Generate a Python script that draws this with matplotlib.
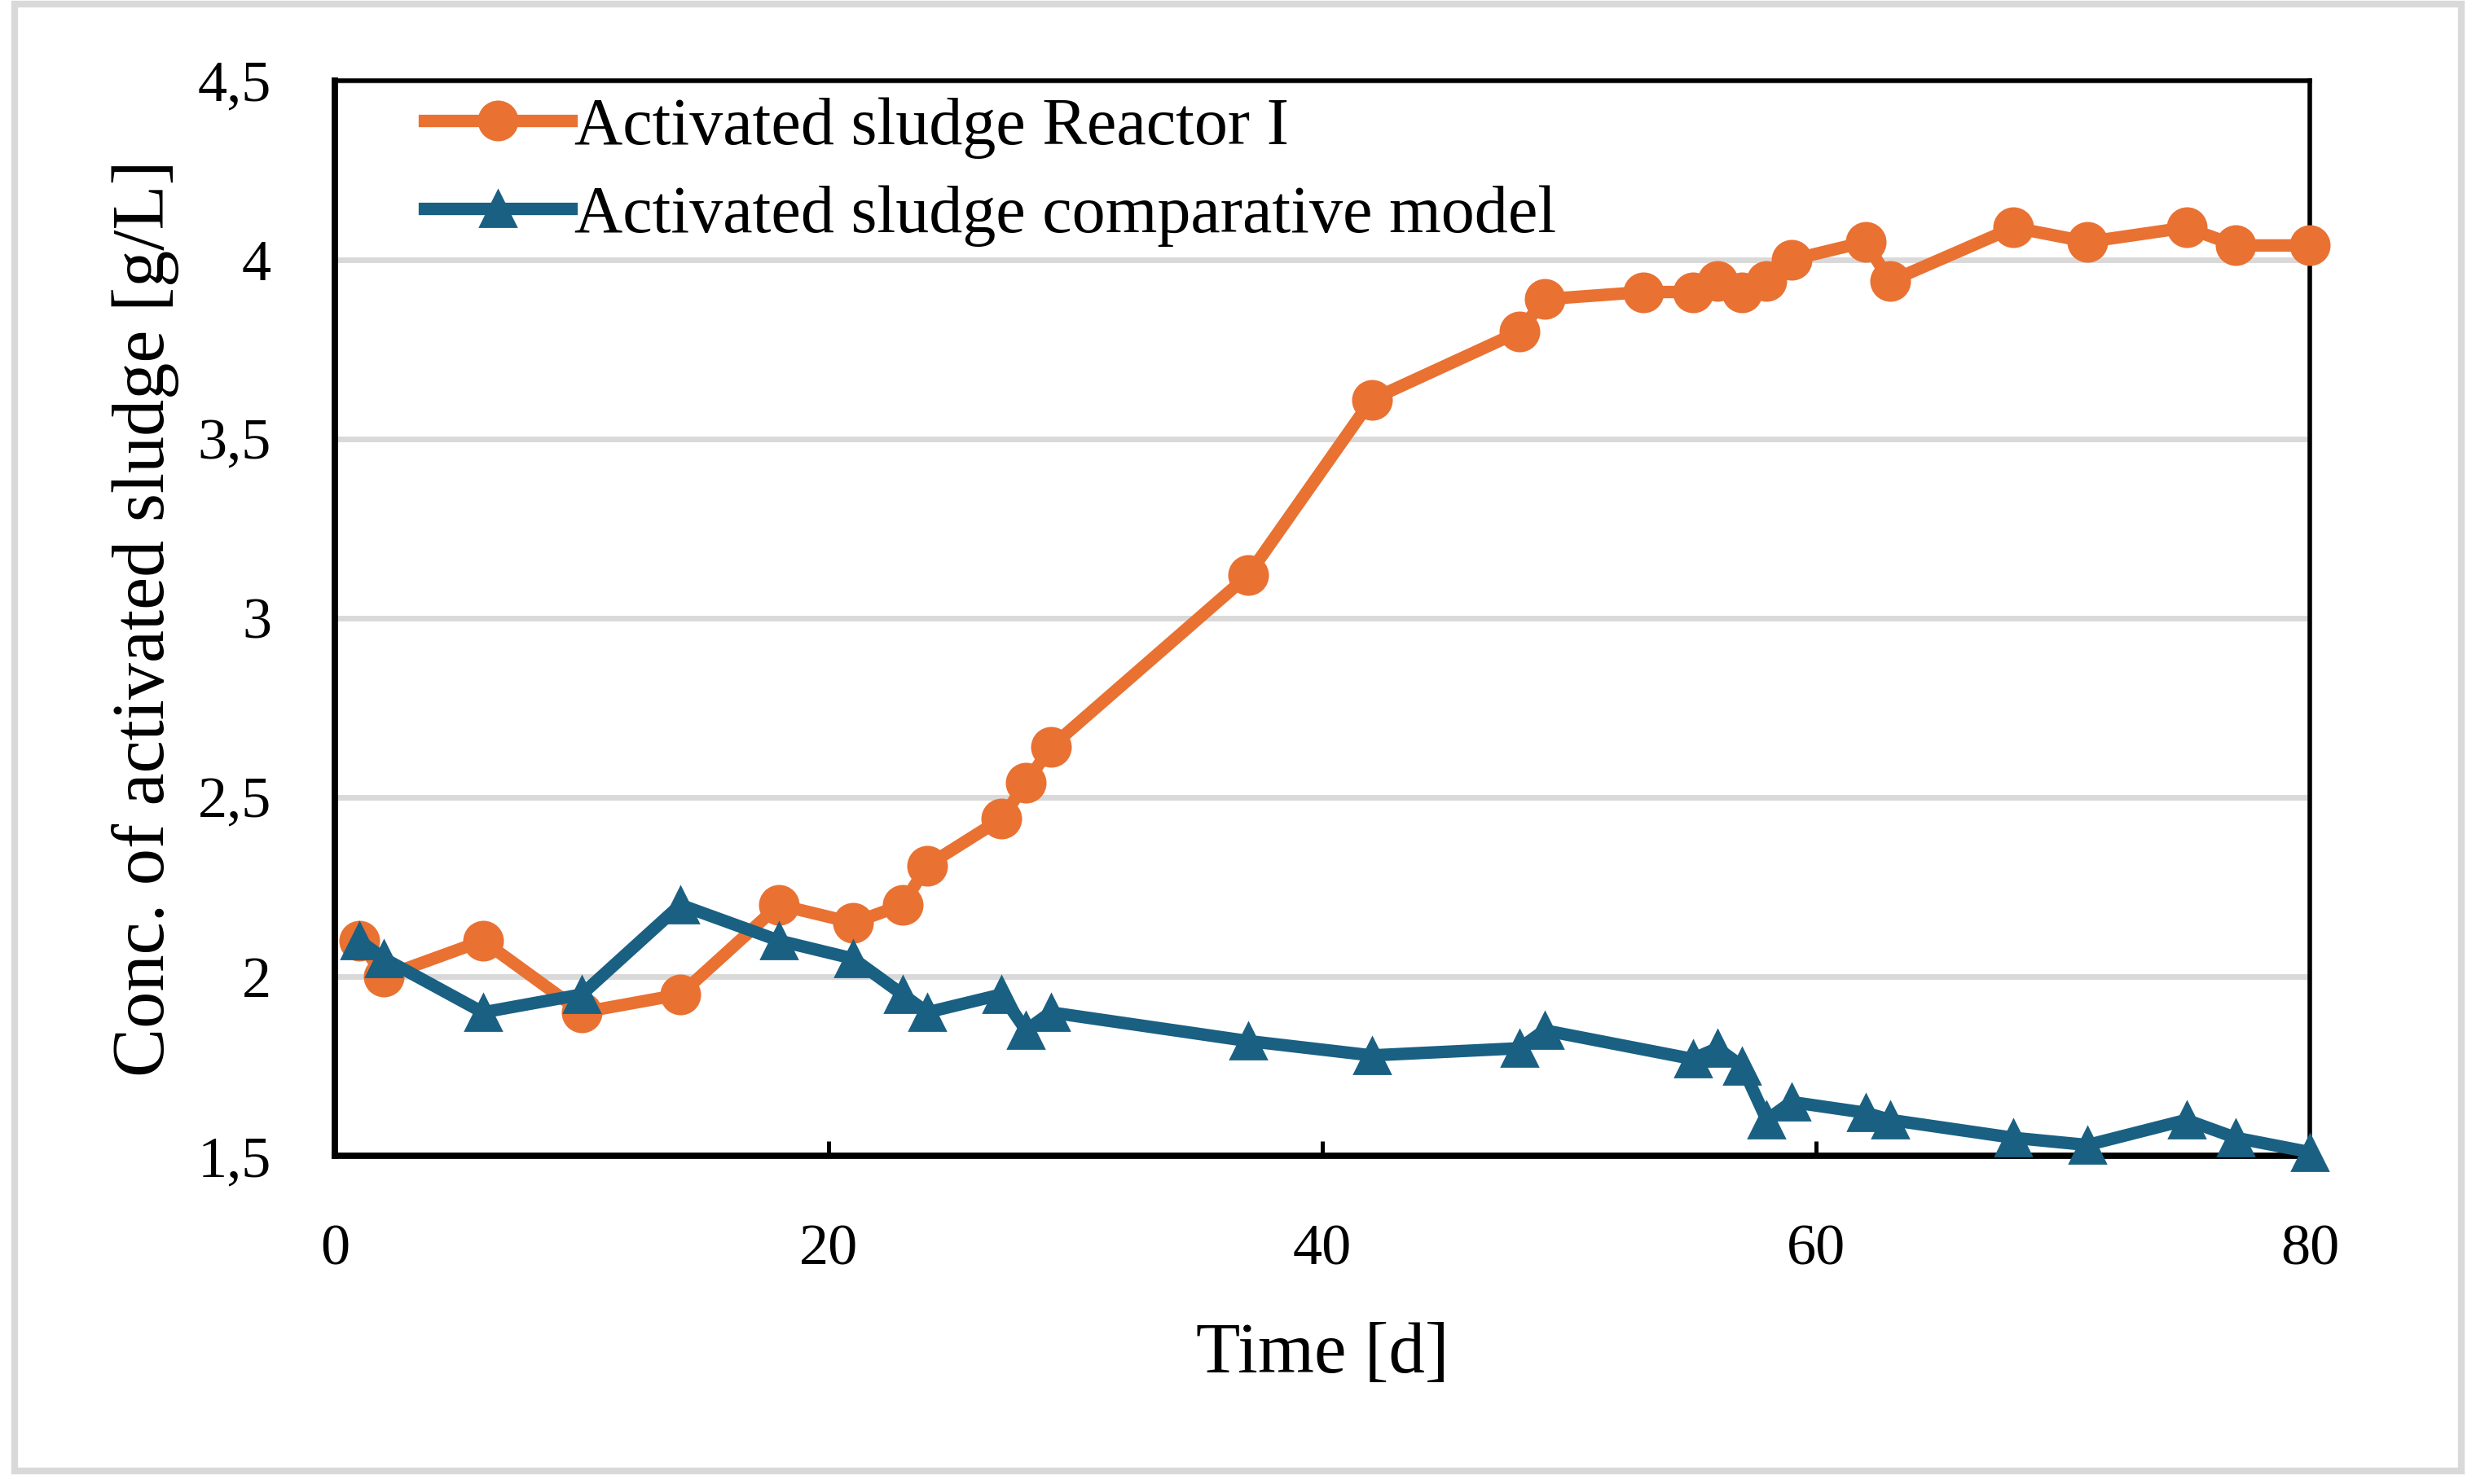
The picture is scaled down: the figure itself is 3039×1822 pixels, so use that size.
import matplotlib
matplotlib.use('Agg')
import matplotlib.pyplot as plt
from matplotlib.patches import Rectangle

plt.rcParams['font.family'] = ['Liberation Serif', 'DejaVu Serif']

# Time in days
days = [1, 2, 6, 10, 14, 18, 21, 23, 24, 27, 28, 29, 37, 42, 48, 49, 53, 55, 56,
        57, 58, 59, 62, 63, 68, 71, 75, 77, 80]
reactor = [2.10, 2.00, 2.10, 1.90, 1.95, 2.20, 2.15, 2.20, 2.31, 2.44, 2.54, 2.64,
           3.12, 3.61, 3.80, 3.89, 3.91, 3.91, 3.94, 3.91, 3.94, 4.00, 4.05, 3.94,
           4.09, 4.05, 4.09, 4.04, 4.04]

days_model = [1, 2, 6, 10, 14, 18, 21, 23, 24, 27, 28, 29, 37, 42, 48, 49, 55, 56,
              57, 58, 59, 62, 63, 68, 71, 75, 77, 80]
model = [2.10, 2.05, 1.90, 1.95, 2.20, 2.10, 2.05, 1.95, 1.90, 1.95, 1.85, 1.90,
         1.82, 1.78, 1.80, 1.85, 1.77, 1.80, 1.75, 1.60, 1.65, 1.62, 1.60, 1.55,
         1.53, 1.60, 1.55, 1.51]

x_ticks = [0, 20, 40, 60, 80]
y_ticks = [1.5, 2, 2.5, 3, 3.5, 4, 4.5]
y_labels = ['1,5', '2', '2,5', '3', '3,5', '4', '4,5']

orange = '#E97132'
blue = '#196083'

fig = plt.figure(figsize=(15.195, 9.11), dpi=200)
ax = fig.add_axes([0.1352, 0.2212, 0.7977, 0.7245])

# light grey border round the whole figure
fig.patches.append(Rectangle((0.006, 0.009), 0.988, 0.988, transform=fig.transFigure,
                             fill=False, edgecolor='#D9D9D9', linewidth=3))

ax.plot(days, reactor, color=orange, marker='o', markersize=17, linewidth=5.5,
        label='Activated sludge Reactor I', clip_on=False, zorder=3)
ax.plot(days_model, model, color=blue, marker='^', markersize=16, linewidth=5.5,
        label='Activated sludge comparative model', clip_on=False, zorder=4)

ax.set_xlim(0, 80)
ax.set_ylim(1.5, 4.5)
ax.set_xticks(x_ticks)
ax.set_yticks(y_ticks)
ax.set_yticklabels(y_labels)
ax.grid(axis='y', color='#D9D9D9', linewidth=2.5, zorder=0)
ax.set_axisbelow(True)

ax.tick_params(axis='x', direction='in', length=6.5, width=1.8, pad=30, labelsize=26)
ax.tick_params(axis='y', length=0, pad=28, labelsize=26)

for side in ['left', 'bottom']:
    ax.spines[side].set_linewidth(2.8)
for side in ['top', 'right']:
    ax.spines[side].set_linewidth(2.0)

ax.set_xlabel('Time [d]', fontsize=32, labelpad=20)
ax.set_ylabel('Conc. of activated sludge [g/L]', fontsize=32.5, labelpad=8)

ax.legend(loc='upper left', frameon=False, fontsize=29.5, handlelength=2.2,
          handletextpad=0.05, borderaxespad=0.2, labelspacing=0.4,
          bbox_to_anchor=(0.025, 1.022))

fig.savefig('out.png', dpi=200)
